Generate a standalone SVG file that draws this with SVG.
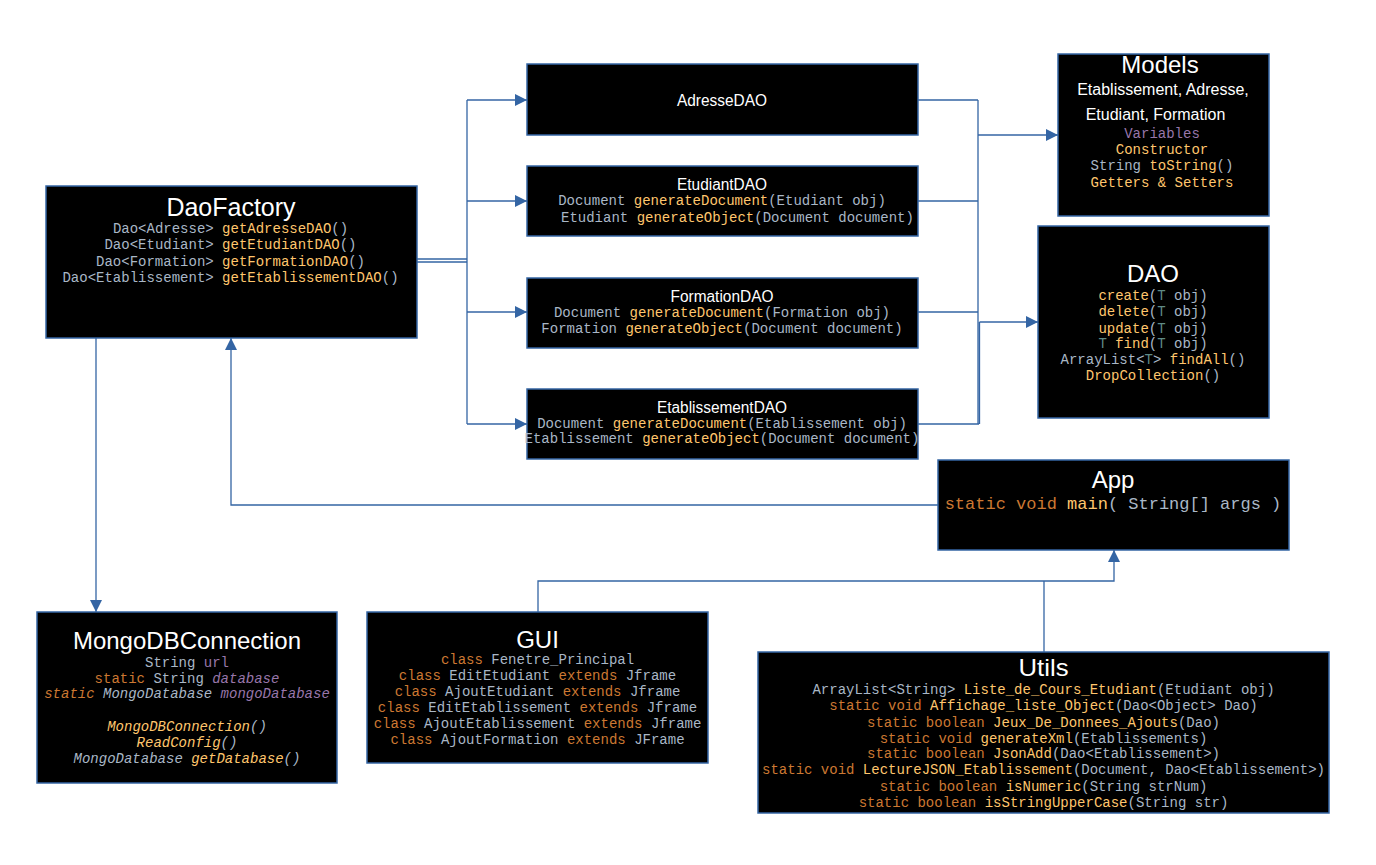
<svg xmlns="http://www.w3.org/2000/svg" width="1376" height="865" viewBox="0 0 1376 865">
<style>
.box{fill:#000;stroke:#3465a4;stroke-width:1.5}
.ttl{font-family:"Liberation Sans",Arial,sans-serif;font-size:24px;fill:#fff;text-anchor:middle}
.sub{font-family:"Liberation Sans",Arial,sans-serif;font-size:16px;fill:#fff;text-anchor:middle}
.m{font-family:"Liberation Mono","DejaVu Sans Mono",monospace;font-size:14px;text-anchor:middle}
.big{font-size:17px}
.st{text-anchor:start}
.b{fill:#a9b7c6}.o{fill:#cc7832}.y{fill:#ffc66d}.p{fill:#9876aa}.t{fill:#5f8a86}
.i{font-style:italic}
.c{fill:none;stroke:#3465a4;stroke-width:1.3}
</style>
<defs>
<marker id="arr" markerUnits="userSpaceOnUse" markerWidth="12" markerHeight="12" refX="12" refY="6" orient="auto">
<path d="M0,0 L12,6 L0,12 z" fill="#3465a4"/>
</marker>
</defs>
<rect width="1376" height="865" fill="#fff"/>
<g id="connectors">
<path class="c" d="M417,259 H467 M417,262 H467"/>
<path class="c" d="M467,100 V424"/>
<path class="c" d="M467,100 H527" marker-end="url(#arr)"/>
<path class="c" d="M467,201 H527" marker-end="url(#arr)"/>
<path class="c" d="M467,312 H527" marker-end="url(#arr)"/>
<path class="c" d="M467,424 H527" marker-end="url(#arr)"/>
<path class="c" d="M918,100 H978 M918,201 H978 M918,312 H978 M918,424 H979 M978,100 V424 M979.5,322 V424"/>
<path class="c" d="M978,135 H1058" marker-end="url(#arr)"/>
<path class="c" d="M979.5,322 H1038" marker-end="url(#arr)"/>
<path class="c" d="M96,338 V612" marker-end="url(#arr)"/>
<path class="c" d="M938,505 H231 V338" marker-end="url(#arr)"/>
<path class="c" d="M538,612 V581 H1114 V550" marker-end="url(#arr)"/>
<path class="c" d="M1044,652 V581"/>
</g>
<g id="DaoFactory">
<rect class="box" x="46" y="186" width="371" height="152"/>
<text class="ttl" x="231" y="216" style="font-size:25px">DaoFactory</text>
<text class="m" x="230.5" y="233"><tspan class="b">Dao&lt;Adresse&gt; </tspan><tspan class="y">getAdresseDAO</tspan><tspan class="b">()</tspan></text>
<text class="m" x="230.5" y="249"><tspan class="b">Dao&lt;Etudiant&gt; </tspan><tspan class="y">getEtudiantDAO</tspan><tspan class="b">()</tspan></text>
<text class="m" x="230.5" y="265.5"><tspan class="b">Dao&lt;Formation&gt; </tspan><tspan class="y">getFormationDAO</tspan><tspan class="b">()</tspan></text>
<text class="m" x="230.5" y="282"><tspan class="b">Dao&lt;Etablissement&gt; </tspan><tspan class="y">getEtablissementDAO</tspan><tspan class="b">()</tspan></text>
</g>
<g id="AdresseDAO">
<rect class="box" x="527" y="64" width="391" height="71"/>
<text class="sub" x="722" y="106" textLength="90" lengthAdjust="spacingAndGlyphs" style="font-size:17px">AdresseDAO</text>
</g>
<g id="EtudiantDAO">
<rect class="box" x="527" y="166" width="391" height="70"/>
<text class="sub" x="722" y="190" textLength="90" lengthAdjust="spacingAndGlyphs">EtudiantDAO</text>
<text class="m" x="722" y="205"><tspan class="b">Document </tspan><tspan class="y">generateDocument</tspan><tspan class="b">(Etudiant obj)</tspan></text>
<text class="m st" x="561" y="222"><tspan class="b">Etudiant </tspan><tspan class="y">generateObject</tspan><tspan class="b">(Document document)</tspan></text>
</g>
<g id="FormationDAO">
<rect class="box" x="527" y="278" width="391" height="70"/>
<text class="sub" x="722" y="302" textLength="103" lengthAdjust="spacingAndGlyphs">FormationDAO</text>
<text class="m" x="722" y="317"><tspan class="b">Document </tspan><tspan class="y">generateDocument</tspan><tspan class="b">(Formation obj)</tspan></text>
<text class="m" x="722" y="333"><tspan class="b">Formation </tspan><tspan class="y">generateObject</tspan><tspan class="b">(Document document)</tspan></text>
</g>
<g id="EtablissementDAO">
<rect class="box" x="527" y="389" width="391" height="70"/>
<text class="sub" x="722" y="413" textLength="130" lengthAdjust="spacingAndGlyphs">EtablissementDAO</text>
<text class="m" x="722" y="428"><tspan class="b">Document </tspan><tspan class="y">generateDocument</tspan><tspan class="b">(Etablissement obj)</tspan></text>
<text class="m" x="722" y="443"><tspan class="b">Etablissement </tspan><tspan class="y">generateObject</tspan><tspan class="b">(Document document)</tspan></text>
</g>
<g id="Models">
<rect class="box" x="1058" y="54" width="211" height="162"/>
<text class="ttl" x="1160" y="73">Models</text>
<text class="sub" x="1163" y="95">Etablissement, Adresse,</text>
<text class="sub" x="1155.5" y="120">Etudiant, Formation</text>
<text class="m p" x="1162" y="138">Variables</text>
<text class="m y" x="1162" y="154">Constructor</text>
<text class="m" x="1162" y="170"><tspan class="b">String </tspan><tspan class="y">toString</tspan><tspan class="b">()</tspan></text>
<text class="m y" x="1162" y="187">Getters &amp; Setters</text>
</g>
<g id="DAO">
<rect class="box" x="1038" y="226" width="231" height="192"/>
<text class="ttl" x="1153" y="282">DAO</text>
<text class="m" x="1153" y="300"><tspan class="y">create</tspan><tspan class="b">(</tspan><tspan class="t">T</tspan><tspan class="b"> obj)</tspan></text>
<text class="m" x="1153" y="316"><tspan class="y">delete</tspan><tspan class="b">(</tspan><tspan class="t">T</tspan><tspan class="b"> obj)</tspan></text>
<text class="m" x="1153" y="333"><tspan class="y">update</tspan><tspan class="b">(</tspan><tspan class="t">T</tspan><tspan class="b"> obj)</tspan></text>
<text class="m" x="1153" y="348"><tspan class="t">T </tspan><tspan class="y">find</tspan><tspan class="b">(</tspan><tspan class="t">T</tspan><tspan class="b"> obj)</tspan></text>
<text class="m" x="1153" y="364"><tspan class="b">ArrayList&lt;</tspan><tspan class="t">T</tspan><tspan class="b">&gt; </tspan><tspan class="y">findAll</tspan><tspan class="b">()</tspan></text>
<text class="m" x="1153" y="380"><tspan class="y">DropCollection</tspan><tspan class="b">()</tspan></text>
</g>
<g id="App">
<rect class="box" x="938" y="460" width="351" height="90"/>
<text class="ttl" x="1113" y="488">App</text>
<text class="m big" x="1113" y="509"><tspan class="o">static void </tspan><tspan class="y">main</tspan><tspan class="b">( String[] args )</tspan></text>
</g>
<g id="MongoDBConnection">
<rect class="box" x="37" y="612" width="300" height="171"/>
<text class="ttl" x="187" y="649">MongoDBConnection</text>
<text class="m" x="187" y="667"><tspan class="b">String </tspan><tspan class="p">url</tspan></text>
<text class="m" x="187" y="683"><tspan class="o">static </tspan><tspan class="b">String </tspan><tspan class="p i">database</tspan></text>
<text class="m i" x="187" y="698"><tspan class="o">static </tspan><tspan class="b">MongoDatabase </tspan><tspan class="p">mongoDatabase</tspan></text>
<text class="m i" x="187" y="731"><tspan class="y">MongoDBConnection</tspan><tspan class="b">()</tspan></text>
<text class="m i" x="187" y="747"><tspan class="y">ReadConfig</tspan><tspan class="b">()</tspan></text>
<text class="m i" x="187" y="763"><tspan class="b">MongoDatabase </tspan><tspan class="y">getDatabase</tspan><tspan class="b">()</tspan></text>
</g>
<g id="GUI">
<rect class="box" x="367" y="612" width="341" height="151"/>
<text class="ttl" x="537.5" y="648">GUI</text>
<text class="m" x="537.5" y="664"><tspan class="o">class </tspan><tspan class="b">Fenetre_Principal</tspan></text>
<text class="m" x="537.5" y="680"><tspan class="o">class </tspan><tspan class="b">EditEtudiant </tspan><tspan class="o">extends </tspan><tspan class="b">Jframe</tspan></text>
<text class="m" x="537.5" y="696"><tspan class="o">class </tspan><tspan class="b">AjoutEtudiant </tspan><tspan class="o">extends </tspan><tspan class="b">Jframe</tspan></text>
<text class="m" x="537.5" y="712"><tspan class="o">class </tspan><tspan class="b">EditEtablissement </tspan><tspan class="o">extends </tspan><tspan class="b">Jframe</tspan></text>
<text class="m" x="537.5" y="728"><tspan class="o">class </tspan><tspan class="b">AjoutEtablissement </tspan><tspan class="o">extends </tspan><tspan class="b">Jframe</tspan></text>
<text class="m" x="537.5" y="744"><tspan class="o">class </tspan><tspan class="b">AjoutFormation </tspan><tspan class="o">extends </tspan><tspan class="b">JFrame</tspan></text>
</g>
<g id="Utils">
<rect class="box" x="758" y="652" width="571" height="161"/>
<text class="ttl" x="1043.5" y="676" textLength="50" lengthAdjust="spacingAndGlyphs">Utils</text>
<text class="m" x="1043.5" y="694"><tspan class="b">ArrayList&lt;String&gt; </tspan><tspan class="y">Liste_de_Cours_Etudiant</tspan><tspan class="b">(Etudiant obj)</tspan></text>
<text class="m" x="1043.5" y="710"><tspan class="o">static void </tspan><tspan class="y">Affichage_liste_Object</tspan><tspan class="b">(Dao&lt;Object&gt; Dao)</tspan></text>
<text class="m" x="1043.5" y="727"><tspan class="o">static boolean </tspan><tspan class="y">Jeux_De_Donnees_Ajouts</tspan><tspan class="b">(Dao)</tspan></text>
<text class="m" x="1043.5" y="743"><tspan class="o">static void </tspan><tspan class="y">generateXml</tspan><tspan class="b">(Etablissements)</tspan></text>
<text class="m" x="1043.5" y="758"><tspan class="o">static boolean </tspan><tspan class="y">JsonAdd</tspan><tspan class="b">(Dao&lt;Etablissement&gt;)</tspan></text>
<text class="m" x="1043.5" y="774"><tspan class="o">static void </tspan><tspan class="y">LectureJSON_Etablissement</tspan><tspan class="b">(Document, Dao&lt;Etablissement&gt;)</tspan></text>
<text class="m" x="1043.5" y="791"><tspan class="o">static boolean </tspan><tspan class="y">isNumeric</tspan><tspan class="b">(String strNum)</tspan></text>
<text class="m" x="1043.5" y="807"><tspan class="o">static boolean </tspan><tspan class="y">isStringUpperCase</tspan><tspan class="b">(String str)</tspan></text>
</g>
</svg>
